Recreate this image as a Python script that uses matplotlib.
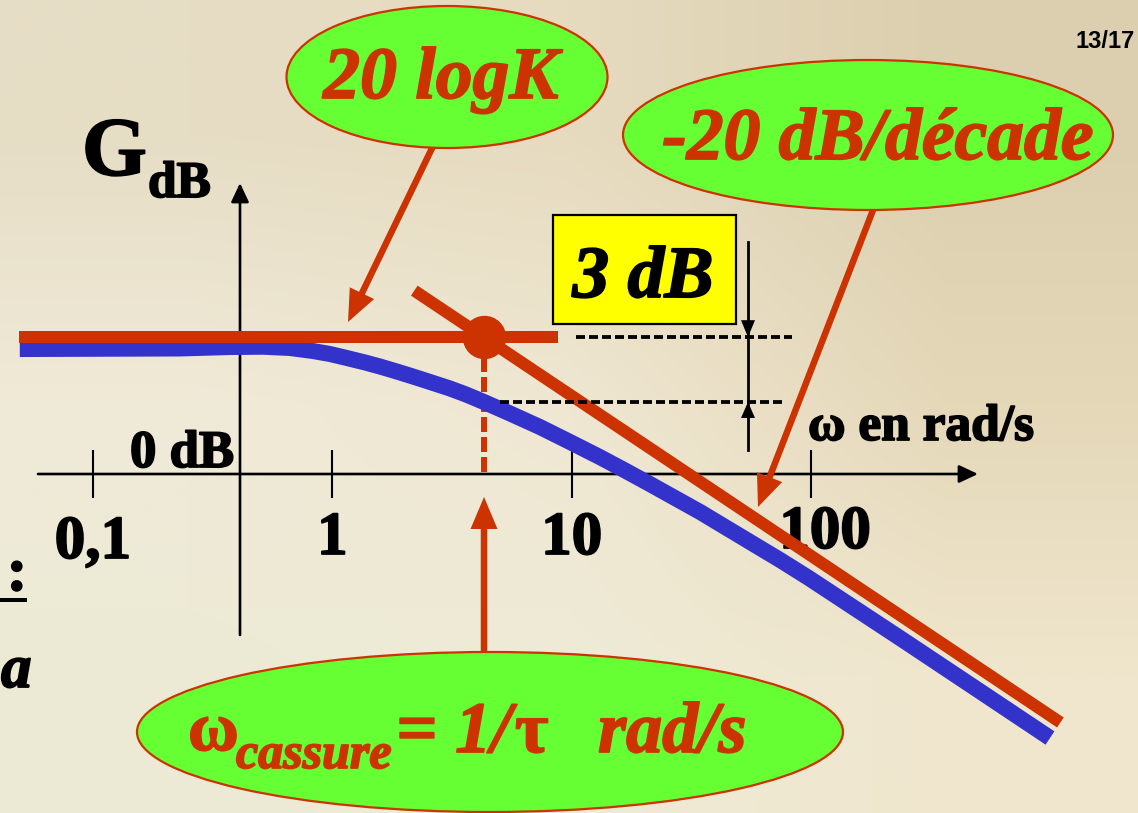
import numpy as np
import matplotlib
matplotlib.use("Agg")
import matplotlib.pyplot as plt
import matplotlib.patheffects as pe
from matplotlib.patches import Ellipse, Rectangle, Polygon, FancyArrow
from matplotlib.transforms import Affine2D
from matplotlib.colors import to_rgb

plt.rcParams['lines.scale_dashes'] = False

# ---------------- data ----------------
omega_ticks = [0.1, 1, 10, 100]
tick_labels = ['0,1', '1', '10', '100']
K_dB = 17.1            # 20 log K
omega_c = 4.3          # break frequency (1/tau)
flat_w = [0.049, 8.8]  # extent of the horizontal asymptote
slope_w = [2.2, 1100]  # extent of the -20 dB/decade asymptote
blue_w = [0.0495, 0.231, 0.374, 0.513, 0.666, 0.831, 0.978, 1.15, 1.37, 1.58, 1.86, 2.17,
          2.56, 3.10, 3.62, 4.3, 5.53, 7.37, 9.84, 13.1, 16.7, 21.2, 27.0, 34.4, 43.7, 55.6,
          74.2, 97.1, 145, 235, 484, 995]
blue_db = [15.62, 15.69, 15.87, 15.91, 15.75, 15.37, 15.0, 14.5, 13.94, 13.44, 12.81, 12.19,
           11.5, 10.69, 9.94, 9.0, 7.56, 5.87, 4.0, 2.12, 0.44, -1.25, -3.0, -4.75, -6.62,
           -8.5, -10.75, -12.94, -16.37, -20.5, -26.75, -33.0]

# ---------------- layout helpers ----------------
W, H = 1138, 813
W0, SX = 332.3, 239.4   # pixel x of omega=1, pixels per decade
Y0, SY = 474.0, 8.0     # pixel y of 0 dB, pixels per dB
PT = 100 / 72.0         # pixels per point


def px2w(x):
    return 10 ** ((x - W0) / SX)


def px2db(y):
    return (Y0 - y) / SY


def db2px(d):
    return Y0 - SY * d


RED = '#CC3300'
BLUE = '#3333CC'
GREEN = '#66FF33'
SERIF = 'Liberation Serif'


def heavy(color, w=1.3):
    return [pe.withStroke(linewidth=w, foreground=color)]


fig = plt.figure(figsize=(W / 100, H / 100), dpi=100)

# background gradient
bg = fig.add_axes([0, 0, 1, 1])
grid = [['#E6DDC5', '#E6DBBF', '#DCCFAF'],
        ['#F0EAD8', '#EFE7D2', '#E5D8B9'],
        ['#ECEAD5', '#EFEBD7', '#EFE6CD']]
arr = np.array([[to_rgb(c) for c in row] for row in grid])
bg.imshow(arr, extent=(0, 1, 0, 1), aspect='auto', interpolation='bilinear')
bg.set_xlim(0, 1)
bg.set_ylim(0, 1)
bg.axis('off')

ax = fig.add_axes([0, 0, 1, 1])
ax.set_zorder(1)
ax.patch.set_visible(False)
ax.set_xscale('log')
ax.set_xlim(px2w(0), px2w(W))
ax.set_ylim(px2db(H), px2db(0))
ax.axis('off')

P = Affine2D().scale(1 / W, -1 / H).translate(0, 1) + fig.transFigure

# ---------------- axes ----------------
axis_style = dict(arrowstyle='-|>,head_length=1.15,head_width=0.54', mutation_scale=10,
                  lw=1.9, color='black', shrinkA=0, shrinkB=0)
ax.annotate('', xy=(px2w(978), 0), xytext=(px2w(38), 0), arrowprops=axis_style, zorder=1)
ax.annotate('', xy=(px2w(240), px2db(183)), xytext=(px2w(240), px2db(635)),
            arrowprops=axis_style, zorder=1)
ax.vlines(omega_ticks, -3, 3, color='black', lw=1.5, zorder=1)

label_offsets = [(0, 84), (0, 80), (0, 80), (14, 74)]   # pixels (right, down) of baseline
for w, lab, (dx, dy) in zip(omega_ticks, tick_labels, label_offsets):
    ax.annotate(lab, xy=(w, 0), xytext=(dx / PT, -dy / PT), textcoords='offset points',
                ha='center', va='baseline', fontsize=44, fontweight='bold',
                fontfamily=SERIF, color='black', path_effects=heavy('black'))

# ---------------- curves ----------------
ax.plot(blue_w, blue_db, color=BLUE, lw=16 / PT, solid_capstyle='butt',
        solid_joinstyle='round', zorder=3)
ax.plot(flat_w, [K_dB, K_dB], color=RED, lw=12 / PT, solid_capstyle='butt', zorder=4)
sw = np.array(slope_w, dtype=float)
ax.plot(sw, K_dB - 20 * np.log10(sw / omega_c), color=RED, lw=12 / PT,
        solid_capstyle='butt', zorder=4)

# break point and dashed drop line
ax.plot([omega_c, omega_c], [K_dB, 0], color=RED, lw=6 / PT,
        ls=(0, (15 / PT, 5 / PT)), zorder=2)
ax.plot([omega_c], [K_dB], 'o', ms=42 / PT, color=RED, mec=RED, zorder=5)

# 3 dB construction
g_break = float(np.interp(np.log10(omega_c), np.log10(blue_w), blue_db))
dash = dict(color='black', lw=3.8 / PT, ls=(0, (9 / PT, 4 / PT)), zorder=6)
ax.plot([px2w(576), px2w(792)], [K_dB, K_dB], **dash)
ax.plot([px2w(500), px2w(784)], [g_break, g_break], **dash)
ax.plot([px2w(748), px2w(748)], [px2db(242), px2db(450)], color='black', lw=2.0,
        zorder=6)
ytop = db2px(K_dB)
ybot = db2px(g_break)
ax.add_patch(Polygon([(741, ytop - 17), (755, ytop - 17), (748, ytop)], closed=True,
                     fc='black', ec='none', transform=P, zorder=7))
ax.add_patch(Polygon([(741, ybot + 16), (755, ybot + 16), (748, ybot)], closed=True,
                     fc='black', ec='none', transform=P, zorder=7))

ax.add_patch(Rectangle((553, 215), 183, 109, fc='#FFFF00', ec='black', lw=1.6,
                       transform=P, zorder=7))
ax.text(643, 297, '3 dB', transform=P, ha='center', va='baseline', fontsize=53,
        fontweight='bold', fontstyle='italic', fontfamily=SERIF, color='black', zorder=8,
        path_effects=heavy('black'))

# ---------------- red arrows ----------------
for (x0, y0, x1, y1) in [(436, 140, 348, 322), (875, 205, 758, 507), (484, 660, 484, 497)]:
    ax.add_patch(FancyArrow(x0, y0, x1 - x0, y1 - y0, width=6.5, head_width=27,
                            head_length=32, length_includes_head=True, fc=RED, ec=RED,
                            lw=0, transform=P, zorder=8))

# ---------------- ellipses ----------------
ell = dict(fc=GREEN, ec=RED, lw=1.6, transform=P, zorder=9)
ax.add_patch(Ellipse((447, 77), 321, 142, **ell))
ax.add_patch(Ellipse((868, 135), 490, 150, **ell))
ax.add_patch(Ellipse((490, 732), 706, 160, **ell))

red_txt = dict(transform=P, va='baseline', fontweight='bold', fontstyle='italic',
               fontfamily=SERIF, color=RED, zorder=10, path_effects=heavy(RED))
ax.text(441, 98, '20 logK', ha='center', fontsize=53, **red_txt)
ax.text(878, 159, '-20 dB/décade', ha='center', fontsize=53, **red_txt)
ax.text(188, 750, 'ω', transform=P, ha='left', va='baseline', fontsize=50,
        fontweight='bold', fontfamily=SERIF, color=RED, zorder=10,
        path_effects=heavy(RED))
ax.text(236, 768, 'cassure', ha='left', fontsize=36, **red_txt)
ax.text(396, 752, '= 1/', ha='left', fontsize=52, **red_txt)
ax.text(515, 752, 'τ', transform=P, ha='left', va='baseline', fontsize=52,
        fontweight='bold', fontfamily=SERIF, color=RED, zorder=10,
        path_effects=heavy(RED))
ax.text(598, 752, 'rad/s', ha='left', fontsize=52, **red_txt)

# ---------------- black labels ----------------
blk = dict(transform=P, va='baseline', fontweight='bold', fontfamily=SERIF, color='black',
           zorder=10, path_effects=heavy('black'))
ax.text(82, 175, 'G', ha='left', fontsize=60, **blk)
ax.text(148, 197, 'dB', ha='left', fontsize=37, **blk)
ax.text(130, 467, '0 dB', ha='left', fontsize=38, **blk)
ax.text(808, 440, 'ω en rad/s', ha='left', fontsize=37, **blk)
ax.text(17, 590, ':', ha='center', fontsize=44, **blk)
ax.add_patch(Rectangle((0, 598), 27, 4, fc='black', ec='none', transform=P, zorder=10))
ax.text(1, 687, 'a', ha='left', fontsize=44, fontstyle='italic', **blk)
ax.text(1076, 48, '13/17', transform=P, ha='left', va='baseline', fontsize=17,
        fontweight='bold', fontfamily='Liberation Sans', color='black', zorder=10)

fig.savefig('out.png', dpi=100)
